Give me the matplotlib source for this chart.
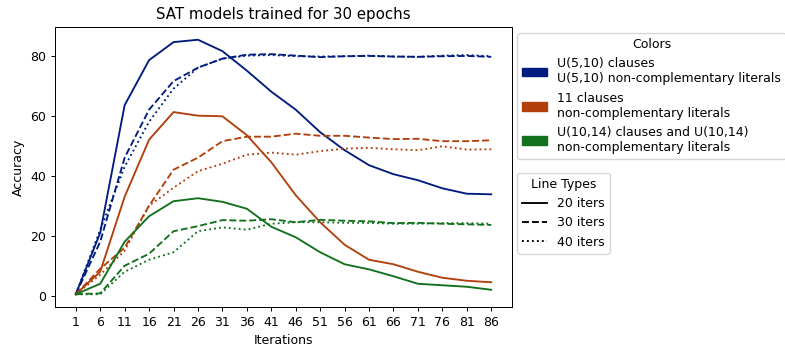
import matplotlib
matplotlib.use("Agg")
import matplotlib.pyplot as plt
from matplotlib.patches import Patch
from matplotlib.lines import Line2D

iters = list(range(1, 87, 5))

blue_20 = [0.5, 21, 63.5, 78.5, 84.5, 85.3, 81.5, 75, 68, 62, 54.5, 48.5, 43.5, 40.5, 38.5, 35.8, 34, 33.8]
blue_30 = [0.5, 18, 46, 62, 71.5, 76, 79, 80.3, 80.5, 80, 79.5, 79.8, 79.9, 79.7, 79.6, 79.8, 79.9, 79.6]
blue_40 = [0.5, 22, 43, 58, 69, 76, 79, 80, 80.2, 79.8, 79.7, 79.8, 80, 79.7, 79.6, 80, 80.2, 79.8]

orange_20 = [0.5, 8, 33, 52, 61.2, 60, 59.8, 53.5, 44.5, 33.5, 24.5, 17, 12, 10.5, 8, 6, 5, 4.5]
orange_30 = [0.5, 9, 16, 30, 42, 46, 51.5, 53, 53, 54, 53.3, 53.3, 52.7, 52.2, 52.3, 51.5, 51.5, 51.8]
orange_40 = [0.5, 7, 15, 30, 36, 41.5, 44, 47, 47.7, 47, 48.2, 49, 49.3, 48.8, 48.5, 49.8, 48.7, 48.8]

green_20 = [0.5, 4, 18, 26.5, 31.5, 32.5, 31.3, 29, 23, 19.5, 14.5, 10.5, 8.8, 6.5, 4, 3.5, 3, 2]
green_30 = [0.5, 0.8, 10, 14, 21.5, 23.2, 25.2, 25, 25.5, 24.5, 25.3, 25, 24.8, 24.2, 24.3, 24, 23.8, 23.6]
green_40 = [0.5, 0.5, 8, 12, 14.5, 21.5, 22.8, 22, 24, 24.5, 24.5, 24.3, 24.3, 24, 24, 24.2, 24.2, 24]

color_labels = ["U(5,10) clauses\nU(5,10) non-complementary literals",
                "11 clauses\nnon-complementary literals",
                "U(10,14) clauses and U(10,14)\nnon-complementary literals"]
line_labels = ["20 iters", "30 iters", "40 iters"]

colors = ["#001c7f", "#b1400d", "#12711c"]
styles = ["-", "--", ":"]

series = [[blue_20, blue_30, blue_40],
          [orange_20, orange_30, orange_40],
          [green_20, green_30, green_40]]

s = 0.9
plt.rcParams.update({
    "font.size": 10 * s,
    "axes.titlesize": 12 * s,
    "axes.linewidth": 0.8 * s,
    "xtick.major.size": 3.5 * s,
    "ytick.major.size": 3.5 * s,
    "xtick.major.width": 0.8 * s,
    "ytick.major.width": 0.8 * s,
    "xtick.major.pad": 3.5 * s,
    "ytick.major.pad": 3.5 * s,
    "axes.titlepad": 6 * s,
    "axes.labelpad": 4 * s,
    "legend.frameon": True,
})

fig = plt.figure(figsize=(7.85, 3.5), dpi=100)
ax = fig.add_axes([55/785, 1-307/350, (512-55)/785, (307-27)/350])

lw = 1.5 * s
for c, group in zip(colors, series):
    for ls, vals in zip(styles, group):
        ax.plot(iters, vals, color=c, linestyle=ls, linewidth=lw)

ax.set_xticks(iters)
ax.set_title("SAT models trained for 30 epochs")
ax.set_xlabel("Iterations")
ax.set_ylabel("Accuracy")

h1 = [Patch(facecolor=c, edgecolor=c) for c in colors]
leg1 = ax.legend(h1, color_labels, title="Colors", loc="upper left",
                 bbox_to_anchor=(517/785, 1-33/350), bbox_transform=fig.transFigure,
                 borderaxespad=0)
ax.add_artist(leg1)
h2 = [Line2D([0], [0], color="black", linestyle=ls, linewidth=lw) for ls in styles]
ax.legend(h2, line_labels, title="Line Types", loc="upper left",
          bbox_to_anchor=(517/785, 1-173/350), bbox_transform=fig.transFigure,
          borderaxespad=0)

fig.savefig("out.png", dpi=100)
